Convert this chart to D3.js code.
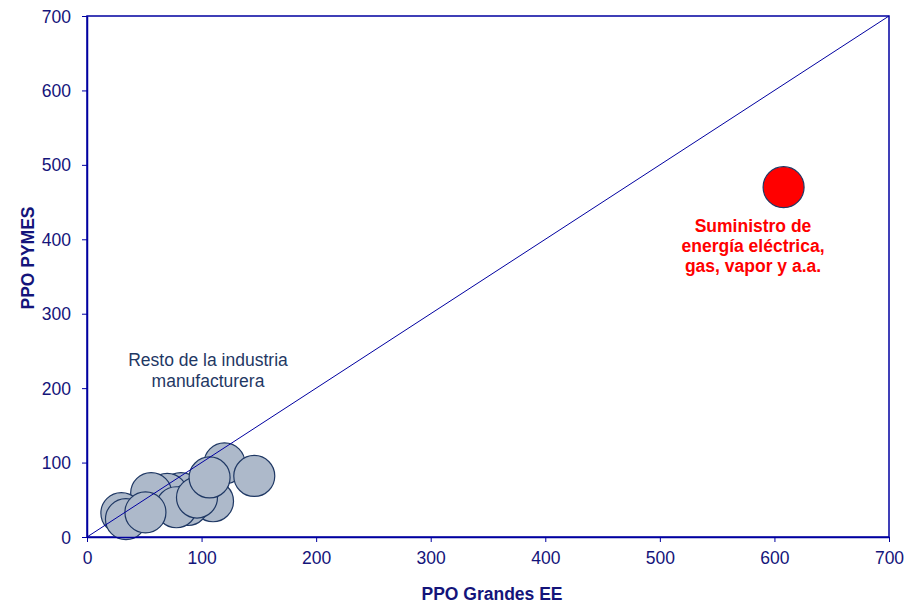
<!DOCTYPE html>
<html>
<head>
<meta charset="utf-8">
<script src="https://cdn.jsdelivr.net/npm/d3@7"></script>
<style>
  body { margin: 0; background: #fff; }
  svg { font-family: "Liberation Sans", Arial, sans-serif; }
</style>
</head>
<body>
<svg id="chart" width="920" height="604"></svg>
<script>
// PPO Grandes EE (x) vs PPO PYMES (y), back to front
const restoX = [120, 82, 70, 56, 110, 88, 78, 96, 107, 146, 30, 34, 51];
const restoY = [99, 59, 58, 59, 48, 43, 40, 53, 80, 82, 32, 24, 33];
const suministroX = [608];
const suministroY = [470];
const ticks = [0, 100, 200, 300, 400, 500, 600, 700];
const restoLabel = ["Resto de la industria", "manufacturera"];
const suministroLabel = ["Suministro de", "energía eléctrica,", "gas, vapor y a.a."];

const axisColor = "#0000a0";
const textColor = "#14147a";
const fontSize = "17.5px";

const marginLeft = 87, marginRight = 30, marginTop = 16, marginBottom = 67;
const width = 920, height = 604;

const svg = d3.select("#chart");

const x = d3.scaleLinear().domain([0, 700]).range([marginLeft, width - marginRight - 1]);
const y = d3.scaleLinear().domain([0, 700]).range([height - marginBottom, marginTop]);

// frame
svg.append("rect")
  .attr("x", x(0)).attr("y", y(700))
  .attr("width", x(700) - x(0)).attr("height", y(0) - y(700))
  .attr("fill", "none").attr("stroke", axisColor).attr("stroke-width", 1.5);

const resto = restoX.map((v, i) => ({ x: v, y: restoY[i] }));
const suministro = suministroX.map((v, i) => ({ x: v, y: suministroY[i] }));

const r = 20.5;

svg.append("g").selectAll("circle").data(resto).join("circle")
  .attr("cx", d => x(d.x)).attr("cy", d => y(d.y)).attr("r", r)
  .attr("fill", "#adb9ca").attr("stroke", "#1f3864").attr("stroke-width", 1.2);

svg.append("g").selectAll("circle").data(suministro).join("circle")
  .attr("cx", d => x(d.x)).attr("cy", d => y(d.y)).attr("r", r)
  .attr("fill", "#ff0000").attr("stroke", "#1f3864").attr("stroke-width", 1.2);

// 45 degree line
svg.append("line")
  .attr("x1", x(0)).attr("y1", y(0)).attr("x2", x(700)).attr("y2", y(700))
  .attr("stroke", axisColor).attr("stroke-width", 1);

const xAxisG = svg.append("g")
  .attr("transform", `translate(0,${y(0)})`)
  .call(d3.axisBottom(x).tickValues(ticks).tickSize(5).tickPadding(10).tickSizeOuter(0));

const yAxisG = svg.append("g")
  .attr("transform", `translate(${x(0)},0)`)
  .call(d3.axisLeft(y).tickValues(ticks).tickSize(5).tickPadding(11).tickSizeOuter(0));

[xAxisG, yAxisG].forEach(g => {
  g.select(".domain").attr("stroke", axisColor).attr("stroke-width", 1.5);
  g.selectAll(".tick line").attr("stroke", axisColor);
  g.selectAll(".tick text").attr("fill", textColor)
    .style("font-size", fontSize).style("font-family", "'Liberation Sans', Arial, sans-serif");
});
yAxisG.selectAll(".tick text").attr("dy", "0.35em");

svg.append("text")
  .attr("x", (x(0) + x(700)) / 2 + 4).attr("y", 600)
  .attr("text-anchor", "middle").attr("fill", textColor)
  .attr("font-weight", "bold").style("font-size", fontSize)
  .text("PPO Grandes EE");

svg.append("text")
  .attr("transform", `translate(34,258) rotate(-90)`)
  .attr("text-anchor", "middle").attr("fill", textColor)
  .attr("font-weight", "bold").style("font-size", fontSize)
  .text("PPO PYMES");

svg.append("g").selectAll("text").data(restoLabel).join("text")
  .attr("x", 208).attr("y", (d, i) => 366 + i * 21)
  .attr("text-anchor", "middle").attr("fill", "#1f3864")
  .style("font-size", fontSize)
  .text(d => d);

svg.append("g").selectAll("text").data(suministroLabel).join("text")
  .attr("x", 753).attr("y", (d, i) => 232 + i * 20)
  .attr("text-anchor", "middle").attr("fill", "#ff0000")
  .attr("font-weight", "bold").style("font-size", fontSize)
  .text(d => d);
</script>
</body>
</html>
